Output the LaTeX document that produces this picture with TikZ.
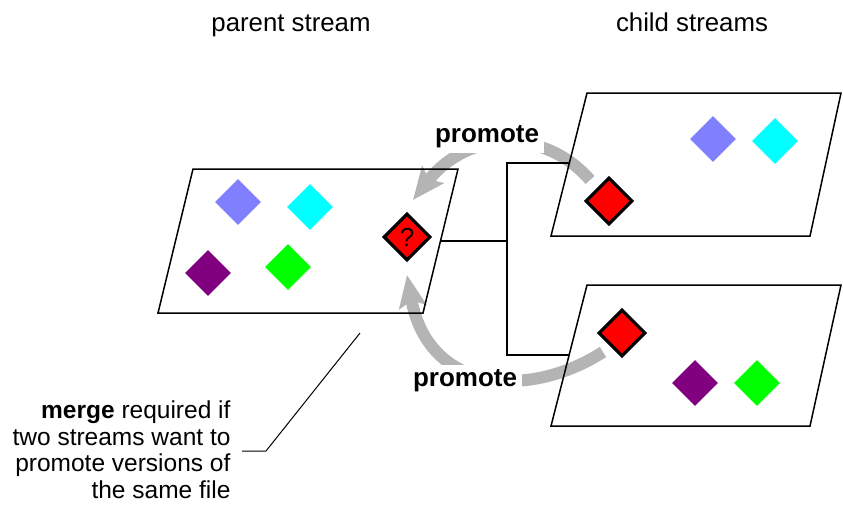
\documentclass[tikz,border=0pt]{standalone}
\usepackage{fontspec}
\setmainfont{Liberation Sans}
\usetikzlibrary{shapes.geometric,arrows.meta}
\definecolor{gemblue}{RGB}{128,128,255}
\definecolor{gemcyan}{RGB}{0,255,255}
\definecolor{gempurple}{RGB}{128,0,128}
\definecolor{gemgreen}{RGB}{0,255,0}
\definecolor{gemred}{RGB}{255,0,0}
\definecolor{arrowgray}{RGB}{180,180,180}
\begin{document}
\begin{tikzpicture}[x=1pt,y=-1pt,
  frame/.style={draw=black,line width=1.5pt,line join=miter},
  wire/.style={draw=black,line width=1.5pt},
  gem/.style={diamond,inner sep=0pt,minimum width=46pt,minimum height=46pt},
  hot/.style={diamond,inner sep=0pt,fill=gemred,draw=black,line width=3.2pt,minimum width=47pt,minimum height=47pt},
  promarrow/.style={draw=arrowgray,line width=12pt,-{Stealth[length=32pt,width=27pt,inset=6pt]}},
  plabel/.style={fill=white,inner sep=5pt,font=\fontsize{26}{28}\selectfont\bfseries},
  title/.style={anchor=base,font=\fontsize{25.8}{28}\selectfont},
  note/.style={anchor=base east,align=right,font=\fontsize{24.5}{26.5}\selectfont}]
\useasboundingbox (0,0) rectangle (843,506);

% titles
\node[title] (tparent) at (291,31) {parent stream};
\node[title] (tchild) at (692,31) {child streams};

% promote arrows (drawn below frames)
\coordinate (a1s) at (590,180);
\coordinate (a1e) at (413,200);
\coordinate (a2s) at (603,352);
\coordinate (a2e) at (407,275);
\draw[promarrow] (a1s) .. controls (545,128) and (468,130) .. (a1e);
\draw[promarrow] (a2s) .. controls (528,400) and (428,392) .. (a2e);
\node[plabel] (prom1) at (487,137) {promote};
\node[plabel] (prom2) at (465,381) {promote};

% stream frames
\draw[frame] (193,169) -- (458,169) -- (423,313) -- (158,313) -- cycle;
\draw[frame] (587,93) -- (841,93) -- (810,236) -- (551,236) -- cycle;
\draw[frame] (587,285) -- (841,285) -- (810,426) -- (551,426) -- cycle;

% connector coordinates
\coordinate (pout) at (440.5,241);
\coordinate (jmid) at (507,241);
\coordinate (jtop) at (507,163);
\coordinate (jbot) at (507,355);
\coordinate (c1in) at (569,163);
\coordinate (c2in) at (569,355);
\draw[wire] (pout) -- (jmid) -- (jtop) -- (c1in);
\draw[wire] (jmid) -- (jbot) -- (c2in);

% diamonds
\node[gem,fill=gemblue] (pblue) at (238,202) {};
\node[gem,fill=gemcyan] (pcyan) at (310,207) {};
\node[gem,fill=gempurple] (ppurple) at (208,273) {};
\node[gem,fill=gemgreen] (pgreen) at (288,267) {};
\node[hot,font=\fontsize{26}{26}\selectfont] (pred) at (407,237) {?};

\node[gem,fill=gemblue] (c1blue) at (713,139) {};
\node[gem,fill=gemcyan] (c1cyan) at (775,141) {};
\node[hot] (c1red) at (609,201) {};

\node[hot] (c2red) at (622,333) {};
\node[gem,fill=gempurple] (c2purple) at (695,383) {};
\node[gem,fill=gemgreen] (c2green) at (757,383) {};

% merge note
\node[note] (mnote) at (234,498) {\textbf{merge} required if\\two streams want to\\promote versions of\\the same file};
\coordinate (m1) at (360,333);
\coordinate (m2) at (266,451);
\coordinate (m3) at (242,451);
\draw[black,line width=1pt] (m1) -- (m2) -- (m3);
\end{tikzpicture}
\end{document}
